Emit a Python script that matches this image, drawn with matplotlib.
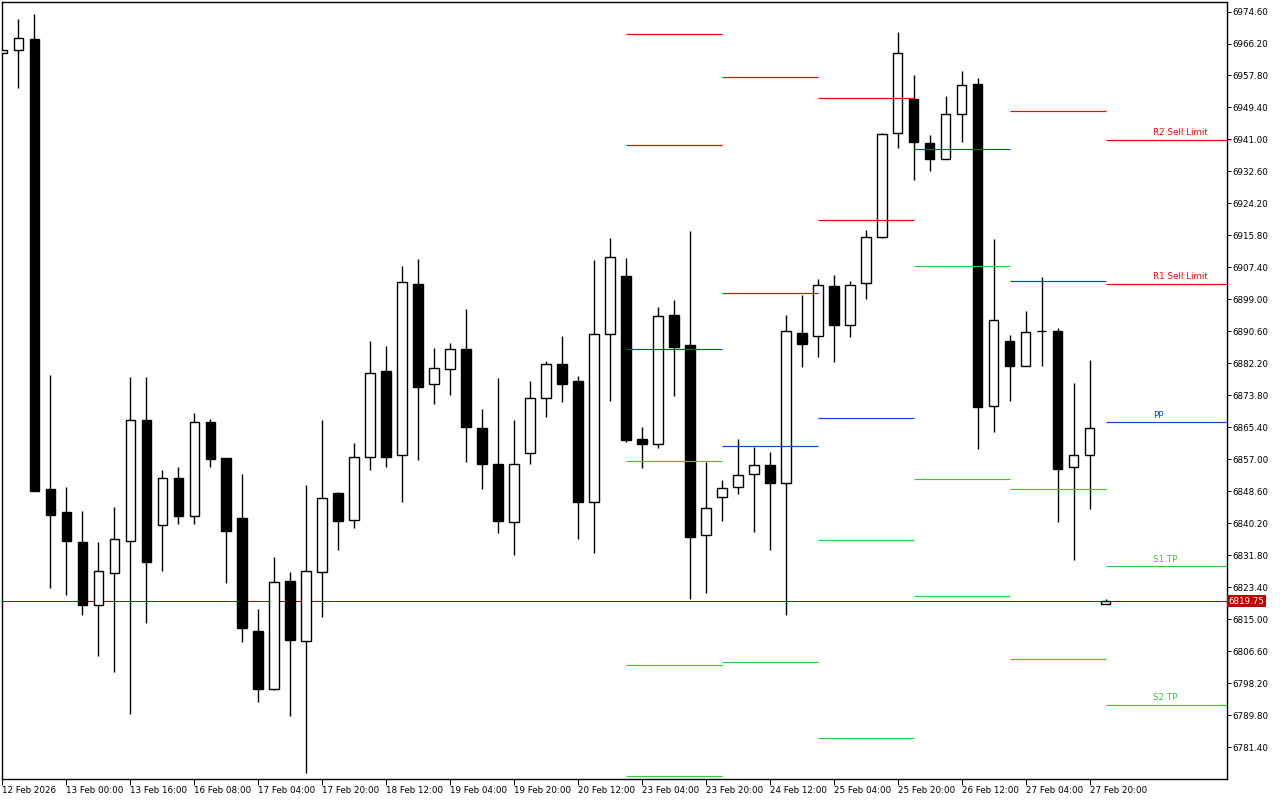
import numpy as np
import matplotlib
matplotlib.use("Agg")
import matplotlib.pyplot as plt
from matplotlib.transforms import blended_transform_factory

# -----------------------------
# H4 bars (12 Feb 2026 08:00 ... current bar)
# -----------------------------
opens = [6963.6, 6964.6, 6967.4, 6849.2, 6843.1, 6835.4, 6818.8, 6827.2, 6835.6, 6867.2,
         6839.7, 6852.2, 6842.0, 6866.9, 6857.3, 6841.6, 6811.9, 6796.8, 6825.1, 6809.3,
         6827.4, 6848.2, 6841.0, 6857.6, 6880.1, 6858.1, 6903.0, 6876.7, 6880.6, 6885.9,
         6865.2, 6855.8, 6840.5, 6858.7, 6873.1, 6882.0, 6877.6, 6845.9, 6889.9, 6905.1,
         6862.4, 6860.9, 6894.9, 6887.0, 6837.0, 6847.0, 6849.8, 6853.1, 6855.5, 6850.8,
         6890.1, 6889.3, 6902.4, 6892.2, 6903.2, 6915.3, 6942.6, 6951.6, 6940.2, 6936.0,
         6947.6, 6955.6, 6870.9, 6888.1, 6881.6, 6890.6, 6890.6, 6854.9, 6858.1, 6818.9]
highs = [6964.6, 6972.7, 6974.0, 6879.1, 6849.7, 6843.4, 6835.4, 6844.5, 6878.6, 6878.6,
         6854.1, 6854.9, 6869.2, 6867.5, 6857.3, 6853.1, 6817.7, 6831.3, 6827.4, 6850.3,
         6867.3, 6848.4, 6861.3, 6888.0, 6886.8, 6907.8, 6909.6, 6886.3, 6887.5, 6896.5,
         6870.2, 6878.3, 6867.3, 6877.6, 6882.8, 6889.4, 6878.9, 6909.4, 6915.2, 6909.9,
         6865.5, 6897.0, 6898.9, 6916.9, 6856.3, 6851.6, 6862.4, 6860.3, 6858.9, 6894.9,
         6900.1, 6904.4, 6905.3, 6903.8, 6917.3, 6942.6, 6969.3, 6957.9, 6942.2, 6952.4,
         6959.0, 6957.1, 6914.9, 6889.6, 6896.0, 6904.9, 6891.5, 6877.1, 6883.1, 6820.2]
lows = [6963.6, 6954.4, 6848.6, 6823.1, 6821.5, 6816.2, 6805.4, 6801.2, 6790.2, 6813.9,
        6827.7, 6839.9, 6840.1, 6855.0, 6824.6, 6809.0, 6793.4, 6796.5, 6789.6, 6774.6,
        6815.5, 6833.1, 6838.9, 6854.1, 6855.0, 6845.9, 6856.7, 6871.4, 6874.0, 6856.4,
        6849.1, 6837.6, 6832.0, 6855.8, 6868.2, 6872.0, 6836.0, 6832.3, 6872.3, 6861.6,
        6854.6, 6859.9, 6873.7, 6820.2, 6821.8, 6840.9, 6848.0, 6837.9, 6833.1, 6816.0,
        6881.3, 6883.8, 6882.5, 6889.2, 6899.0, 6915.0, 6938.8, 6930.4, 6932.6, 6935.9,
        6940.4, 6859.6, 6864.1, 6872.2, 6881.6, 6881.6, 6840.5, 6830.6, 6844.0, 6818.9]
closes = [6964.6, 6967.7, 6848.8, 6842.5, 6835.6, 6818.8, 6827.6, 6836.0, 6867.2, 6830.1,
          6852.2, 6842.2, 6866.9, 6857.1, 6838.1, 6812.8, 6796.8, 6824.7, 6809.5, 6827.6,
          6846.8, 6840.9, 6857.5, 6879.8, 6857.7, 6903.5, 6876.1, 6881.0, 6885.9, 6865.4,
          6855.8, 6840.7, 6855.7, 6873.1, 6882.0, 6876.9, 6845.9, 6889.9, 6910.1, 6862.2,
          6861.1, 6894.6, 6886.6, 6836.7, 6844.2, 6849.5, 6852.8, 6855.5, 6850.7, 6890.6,
          6887.4, 6902.7, 6892.4, 6902.9, 6915.3, 6942.4, 6963.7, 6940.4, 6935.9, 6947.6,
          6955.2, 6870.8, 6893.5, 6881.6, 6890.4, 6890.6, 6854.5, 6858.1, 6865.1, 6819.75]

# time labels (one every 4 bars)
time_labels = ["12 Feb 2026", "13 Feb 00:00", "13 Feb 16:00", "16 Feb 08:00", "17 Feb 04:00",
               "17 Feb 20:00", "18 Feb 12:00", "19 Feb 04:00", "19 Feb 20:00", "20 Feb 12:00",
               "23 Feb 04:00", "23 Feb 20:00", "24 Feb 12:00", "25 Feb 04:00", "25 Feb 20:00",
               "26 Feb 12:00", "27 Feb 04:00", "27 Feb 20:00"]
LABEL_EVERY = 4

# -----------------------------
# daily pivot levels (first bar of each day)
# -----------------------------
nan = np.nan
day_start = [39, 45, 51, 57, 63, 69]
piv_r2 = [6968.6, 6957.3, 6951.8, nan, nan, 6940.8]
piv_r1 = [6939.5, 6900.6, 6919.8, nan, 6948.4, 6903.0]
piv_pp = [6885.9, 6860.4, 6867.8, 6938.4, 6903.9, 6866.7]
piv_s1 = [6856.5, 6803.7, 6835.7, 6907.7, 6849.1, 6828.9]
piv_s2 = [6803.0, nan, 6783.8, 6851.8, 6804.6, 6792.6]
piv_s3 = [6773.9, nan, nan, 6821.0, nan, nan]
last_labels = {"R2": "R2 Sell Limit", "R1": "R1 Sell Limit", "PP": "PP",
               "S1": "S1 TP", "S2": "S2 TP"}

bid = 6819.75

RED = "#ff0000"
BLUE = "#0050cc"
GREEN = "#32cd32"
PX = 0.72  # 1 pixel in points at 100 dpi

plt.rcParams["font.family"] = ["DejaVu Sans"]
plt.rcParams["font.size"] = 6.3

fig = plt.figure(figsize=(12.8, 8), dpi=100)
ax = fig.add_axes([2 / 1280, 21 / 800, 1225 / 1280, 777 / 800])

n = len(opens)
xs = np.arange(n)
o = np.array(opens)
h = np.array(highs)
l = np.array(lows)
c = np.array(closes)

# wicks
ax.vlines(xs, l, h, color="black", lw=1.4 * PX, zorder=2)
# bodies
bull = c >= o
body_lo = np.minimum(o, c)
body_h = np.abs(c - o)
ax.bar(xs, body_h, bottom=body_lo, width=0.6,
       color=np.where(bull, "white", "black"), edgecolor="black",
       linewidth=1.4 * PX, zorder=3)

# pivot segments
last_x = 76.6
levels = [("R2", piv_r2, RED), ("R1", piv_r1, RED), ("PP", piv_pp, BLUE),
          ("S1", piv_s1, GREEN), ("S2", piv_s2, GREEN), ("S3", piv_s3, GREEN)]
for i, start in enumerate(day_start):
    end = day_start[i + 1] if i + 1 < len(day_start) else last_x
    for name, vals, col in levels:
        v = vals[i]
        if np.isnan(v):
            continue
        ax.hlines(v, start, end, color=col, lw=1.2 * PX, zorder=4)
        if i == len(day_start) - 1 and name in last_labels:
            ax.annotate(last_labels[name], (start + 3, v), xytext=(0, 2),
                        textcoords="offset points", color=col, fontsize=6.3,
                        ha="left", va="bottom", zorder=5)

# current price line
ax.axhline(bid, color="#b00000", lw=1.0 * PX, zorder=1)
tr = blended_transform_factory(ax.transAxes, ax.transData)
ax.text(1.0015, bid, f"{bid:.2f}", transform=tr, ha="left", va="center",
        color="white", fontsize=6.3, zorder=6, clip_on=False,
        bbox=dict(boxstyle="square,pad=0.18", facecolor="#c00000", edgecolor="none"))

# axes
ax.set_xlim(-0.03, last_x)
ax.set_ylim(6773.05, 6977.1)
yt = np.round(np.arange(6781.4, 6975.0, 8.4), 2)
ax.yaxis.tick_right()
ax.set_yticks(yt)
ax.set_yticklabels([f"{v:.2f}" for v in yt])
ax.tick_params(axis="y", direction="out", length=3, width=PX, pad=1, right=True, left=False)
ax.set_xticks(np.arange(len(time_labels)) * LABEL_EVERY)
ax.set_xticklabels(time_labels, ha="left")
ax.tick_params(axis="x", direction="out", length=4, width=PX, pad=1)
for lab in ax.get_xticklabels():
    lab.set_x(0)
for sp in ax.spines.values():
    sp.set_linewidth(1.4 * PX)
    sp.set_color("black")

fig.savefig("out.png", dpi=100, facecolor="white")
